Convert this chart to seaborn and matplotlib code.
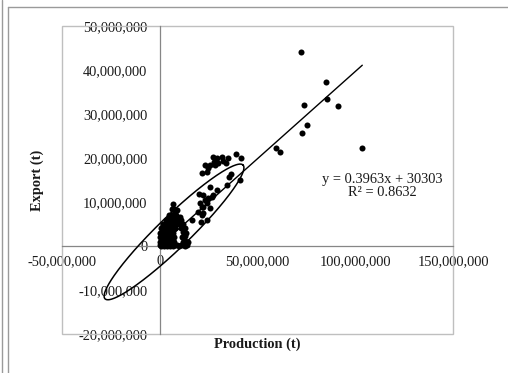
import numpy as np
import pandas as pd
import matplotlib
matplotlib.use("Agg")
import matplotlib.pyplot as plt
import seaborn as sns
from matplotlib.patches import Rectangle
from matplotlib.lines import Line2D
from matplotlib.ticker import FuncFormatter, FixedLocator

# ---------------- data (millions of tonnes) ----------------
# outliers, upper right
prod_high = [72.1, 84.9, 85.7, 73.8, 91.3, 75.2, 72.6, 59.5, 61.5, 103.6]
exp_high = [44.0, 37.3, 33.3, 32.0, 31.8, 27.5, 25.6, 22.3, 21.3, 22.2]

# middle group
prod_mid = [21.4, 24.0, 23.1, 24.8, 25.7, 27.4, 27.7, 28.3, 29.1, 30.0, 31.7, 32.5,
            33.9, 35.1, 39.0, 41.6, 36.5, 35.5, 34.2, 41.0, 29.1, 27.4, 25.7, 22.3,
            24.8, 26.6, 23.1, 20.2, 24.0, 22.3, 21.4, 20.6, 25.7, 19.7, 22.3, 21.4,
            21.0, 24.0, 16.3, 12.9, 12.0, 13.8, 10.4, 8.7, 7.8, 6.1]
exp_mid = [16.5, 16.9, 18.4, 17.7, 18.4, 20.3, 19.2, 18.4, 19.9, 18.8, 20.3, 19.4,
           18.9, 20.1, 20.8, 20.0, 16.4, 15.6, 13.9, 15.0, 12.7, 11.6, 13.5, 11.6,
           10.8, 11.2, 10.5, 11.8, 9.7, 8.9, 8.9, 9.7, 8.6, 7.8, 7.6, 7.0,
           5.5, 5.9, 5.9, 4.0, 2.1, 1.0, 6.7, 8.2, 7.0, 5.9]

# dense group near the origin
prod_low = [0.0, 0.5, 1.0, 1.5, 2.0, 2.5, 3.0, 3.5, 4.0, 4.5, 5.0, 5.5, 6.0, 7.0, 8.0,
            9.0, 10.0, 11.0, 12.0, 13.0, 14.0,
            0.0, 0.7, 1.4, 2.1, 2.8, 3.5, 4.2, 5.0, 5.8, 6.6, 7.4, 12.0, 13.0, 14.2,
            0.0, 0.8, 1.6, 2.4, 3.2, 4.0, 4.8, 5.6, 6.5, 7.3, 11.5, 12.8,
            0.2, 1.0, 1.8, 2.6, 3.4, 4.2, 5.0, 5.8, 6.6, 12.0, 13.5,
            0.5, 1.3, 2.1, 2.9, 3.7, 4.5, 5.3, 6.1, 7.0, 8.0, 11.0,
            1.5, 2.5, 3.5, 4.5, 5.5, 6.5, 7.5, 9.0, 10.5, 12.0,
            3.0, 4.0, 5.0, 6.0, 7.0, 8.0, 9.5, 11.0,
            4.5, 5.5, 6.5, 7.5, 8.5,
            6.5, 7.5, 7.0]
exp_low = [0.2, 0.1, 0.3, 0.2, 0.1, 0.3, 0.2, 0.1, 0.3, 0.2, 0.1, 0.3, 0.2, 0.1, 0.3,
           0.2, 0.1, 0.3, 0.2, 0.1, 0.3,
           1.0, 1.1, 0.9, 1.0, 1.2, 1.0, 0.9, 1.1, 1.0, 1.2, 0.9, 1.0, 1.1, 0.9,
           2.0, 2.1, 1.9, 2.0, 2.2, 1.9, 2.1, 2.0, 1.9, 2.1, 2.0, 2.2,
           3.0, 3.1, 2.9, 3.0, 3.2, 2.9, 3.1, 3.0, 2.9, 3.1, 3.0,
           4.0, 4.1, 3.9, 4.0, 4.2, 3.9, 4.1, 4.0, 3.9, 4.1, 4.0,
           5.0, 5.1, 4.9, 5.0, 5.2, 4.9, 5.1, 5.0, 4.9, 5.1,
           6.0, 6.1, 5.9, 6.0, 6.2, 5.9, 6.1, 6.0,
           7.0, 7.1, 6.9, 7.2, 7.0,
           8.5, 8.4, 9.5]

production = np.array(prod_high + prod_mid + prod_low) * 1e6
export = np.array(exp_high + exp_mid + exp_low) * 1e6

trend_slope = 0.3963
trend_intercept = 30303
r_squared = 0.8632

# confidence ellipse (centre and half axes, in tonnes)
ell_center = (7.3e6, 3.2e6)
ell_major = (35.3e6, 15.2e6)
ell_minor = (5.7e6, -2.6e6)

x_ticks = [-50e6, 0, 50e6, 100e6, 150e6]
y_ticks = [-20e6, -10e6, 0, 10e6, 20e6, 30e6, 40e6, 50e6]

# ---------------- figure ----------------
sns.set_style("white")
plt.rcParams["font.family"] = ["Liberation Serif", "DejaVu Serif"]

fig = plt.figure(figsize=(5.08, 3.73), dpi=100)
ax = fig.add_axes([62 / 508, 1 - 334 / 373, (453 - 62) / 508, (334 - 26) / 373])

df = pd.DataFrame({"Production (t)": production, "Export (t)": export})
sns.scatterplot(data=df, x="Production (t)", y="Export (t)", ax=ax, color="black",
                s=19, linewidth=0, zorder=4)

tx = np.array([production.min(), production.max()])
trend = pd.DataFrame({"x": tx, "y": trend_slope * tx + trend_intercept})
sns.lineplot(data=trend, x="x", y="y", ax=ax, color="black", linewidth=1.0, zorder=5)

t = np.linspace(0, 2 * np.pi, 300)
ex = ell_center[0] + np.cos(t) * ell_major[0] + np.sin(t) * ell_minor[0]
ey = ell_center[1] + np.cos(t) * ell_major[1] + np.sin(t) * ell_minor[1]
ax.plot(ex, ey, color="black", linewidth=1.1, zorder=5)

ax.set_xlim(-50e6, 150e6)
ax.set_ylim(-20e6, 50e6)
ax.xaxis.set_major_locator(FixedLocator(x_ticks))
ax.yaxis.set_major_locator(FixedLocator(y_ticks))
fmt = FuncFormatter(lambda v, p: f"{v:,.0f}")
ax.xaxis.set_major_formatter(fmt)
ax.yaxis.set_major_formatter(fmt)

for side in ["top", "right"]:
    ax.spines[side].set_visible(False)
for side in ["left", "bottom"]:
    ax.spines[side].set_position(("data", 0))
    ax.spines[side].set_color("#868686")
    ax.spines[side].set_linewidth(0.9)
    ax.spines[side].set_zorder(3)

ax.tick_params(axis="both", direction="inout", length=5.8, width=0.9,
               color="#868686", labelsize=10.4, labelcolor="#1a1a1a")
ax.tick_params(axis="x", pad=3.5)
ax.tick_params(axis="y", pad=6)

ax.add_patch(Rectangle((0, 0), 1, 1, transform=ax.transAxes, fill=False,
                       edgecolor="#BFBFBF", linewidth=1.0, clip_on=False, zorder=2))

ax.set_xlabel("Production (t)", fontsize=10.4, fontweight="bold", color="#1a1a1a")
ax.set_ylabel("Export (t)", fontsize=10.4, fontweight="bold", color="#1a1a1a")
ax.xaxis.set_label_coords(0.5, -0.012)
ax.yaxis.set_label_coords(-0.047, 0.5)

ax.text(113.7e6, 13.6e6,
        f"y = {trend_slope}x + {trend_intercept}\nR\u00b2 = {r_squared}",
        ha="center", va="center", fontsize=10.4, color="#1a1a1a", linespacing=1.05)

# outer chart frame
fig.add_artist(Line2D([1.5 / 508, 1.5 / 508], [0, 1], transform=fig.transFigure,
                      color="#9a9a9a", linewidth=1.0))
fig.add_artist(Line2D([7.5 / 508, 7.5 / 508], [0, 1 - 7 / 373], transform=fig.transFigure,
                      color="#9a9a9a", linewidth=1.0))
fig.add_artist(Line2D([7.5 / 508, 1], [1 - 7 / 373, 1 - 7 / 373], transform=fig.transFigure,
                      color="#9a9a9a", linewidth=1.0))

fig.savefig("out.png", dpi=100)
